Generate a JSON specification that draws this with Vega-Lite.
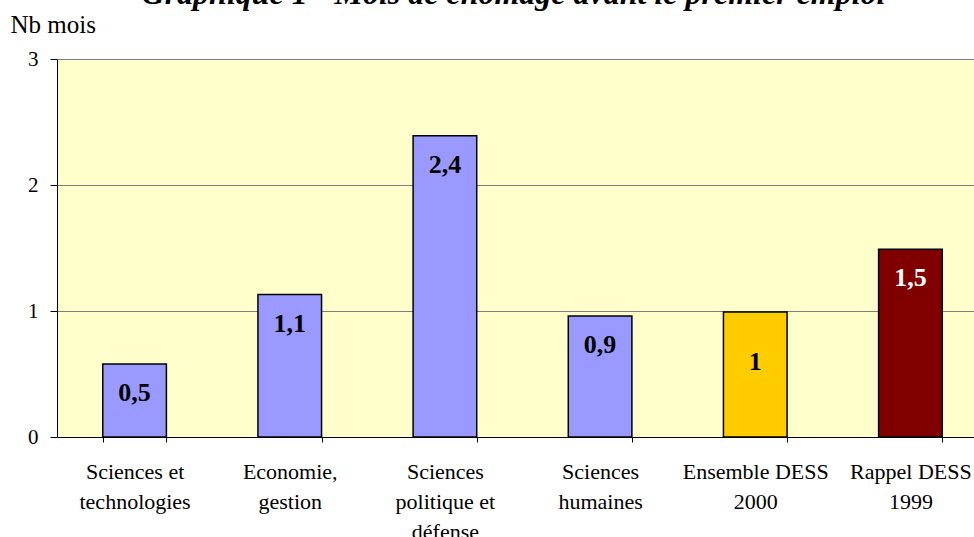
{
  "$schema": "https://vega.github.io/schema/vega-lite/v6.json",
  "autosize": {"type": "none"},
  "padding": {"left": 57, "top": 59, "right": 0, "bottom": 100},
  "width": 917,
  "height": 378,
  "background": "white",
  "view": {"fill": "#FFFFCC", "stroke": null},
  "title": {
    "text": "Graphique 1 - Mois de chômage avant le premier emploi",
    "font": "Liberation Serif",
    "fontSize": 32,
    "fontWeight": "bold",
    "fontStyle": "italic",
    "color": "black",
    "frame": "group",
    "anchor": "middle",
    "baseline": "alphabetic",
    "offset": 0,
    "dx": -2,
    "dy": 24
  },
  "data": {
    "values": [
      {"cat": "Sciences et|technologies", "value": 0.58, "label": "0,5", "type": "discipline"},
      {"cat": "Economie,|gestion", "value": 1.13, "label": "1,1", "type": "discipline"},
      {"cat": "Sciences|politique et|défense", "value": 2.39, "label": "2,4", "type": "discipline"},
      {"cat": "Sciences|humaines", "value": 0.96, "label": "0,9", "type": "discipline"},
      {"cat": "Ensemble DESS|2000", "value": 0.993, "label": "1", "type": "ensemble"},
      {"cat": "Rappel DESS|1999", "value": 1.49, "label": "1,5", "type": "rappel"}
    ]
  },
  "encoding": {
    "x": {
      "field": "cat",
      "type": "nominal",
      "sort": null,
      "scale": {"range": [0, 931], "paddingInner": 0.59, "paddingOuter": 0.295},
      "axis": {
        "title": null,
        "labelAngle": 0,
        "labelExpr": "split(datum.label, '|')",
        "labelFont": "Liberation Serif",
        "labelFontSize": 22,
        "labelColor": "black",
        "labelBaseline": "alphabetic",
        "labelLineHeight": 30,
        "labelPadding": 36,
        "tickBand": "extent",
        "tickSize": 5,
        "tickColor": "black",
        "domainColor": "black",
        "labelOverlap": false,
        "labelBound": false
      }
    },
    "y": {
      "field": "value",
      "type": "quantitative",
      "scale": {"domain": [0, 3], "nice": false},
      "axis": {
        "title": "Nb mois",
        "titleAngle": 0,
        "titleAlign": "left",
        "titleBaseline": "alphabetic",
        "titleX": -47,
        "titleY": -27,
        "titleFont": "Liberation Serif",
        "titleFontSize": 25,
        "titleFontWeight": "normal",
        "titleColor": "black",
        "values": [0, 1, 2, 3],
        "format": "d",
        "labelFont": "Liberation Serif",
        "labelFontSize": 21,
        "labelColor": "black",
        "labelPadding": 12,
        "tickSize": 7,
        "tickColor": "black",
        "domainColor": "black",
        "grid": true,
        "gridColor": "#7F7F7F",
        "gridWidth": 1
      }
    }
  },
  "layer": [
    {
      "mark": {"type": "bar", "stroke": "black", "strokeWidth": 1.5},
      "encoding": {
        "color": {
          "field": "type",
          "type": "nominal",
          "scale": {"domain": ["discipline", "ensemble", "rappel"], "range": ["#9999FF", "#FFCC00", "#800000"]},
          "legend": null
        }
      }
    },
    {
      "transform": [{"filter": "datum.type !== 'ensemble'"}],
      "mark": {"type": "text", "font": "Liberation Serif", "fontSize": 26, "fontWeight": "bold", "baseline": "alphabetic", "dy": 37},
      "encoding": {
        "text": {"field": "label"},
        "color": {"condition": {"test": "datum.type === 'rappel'", "value": "white"}, "value": "black"}
      }
    },
    {
      "transform": [{"filter": "datum.type === 'ensemble'"}],
      "mark": {"type": "text", "font": "Liberation Serif", "fontSize": 26, "fontWeight": "bold", "baseline": "alphabetic", "dy": 58, "color": "black"},
      "encoding": {
        "text": {"field": "label"}
      }
    }
  ]
}
